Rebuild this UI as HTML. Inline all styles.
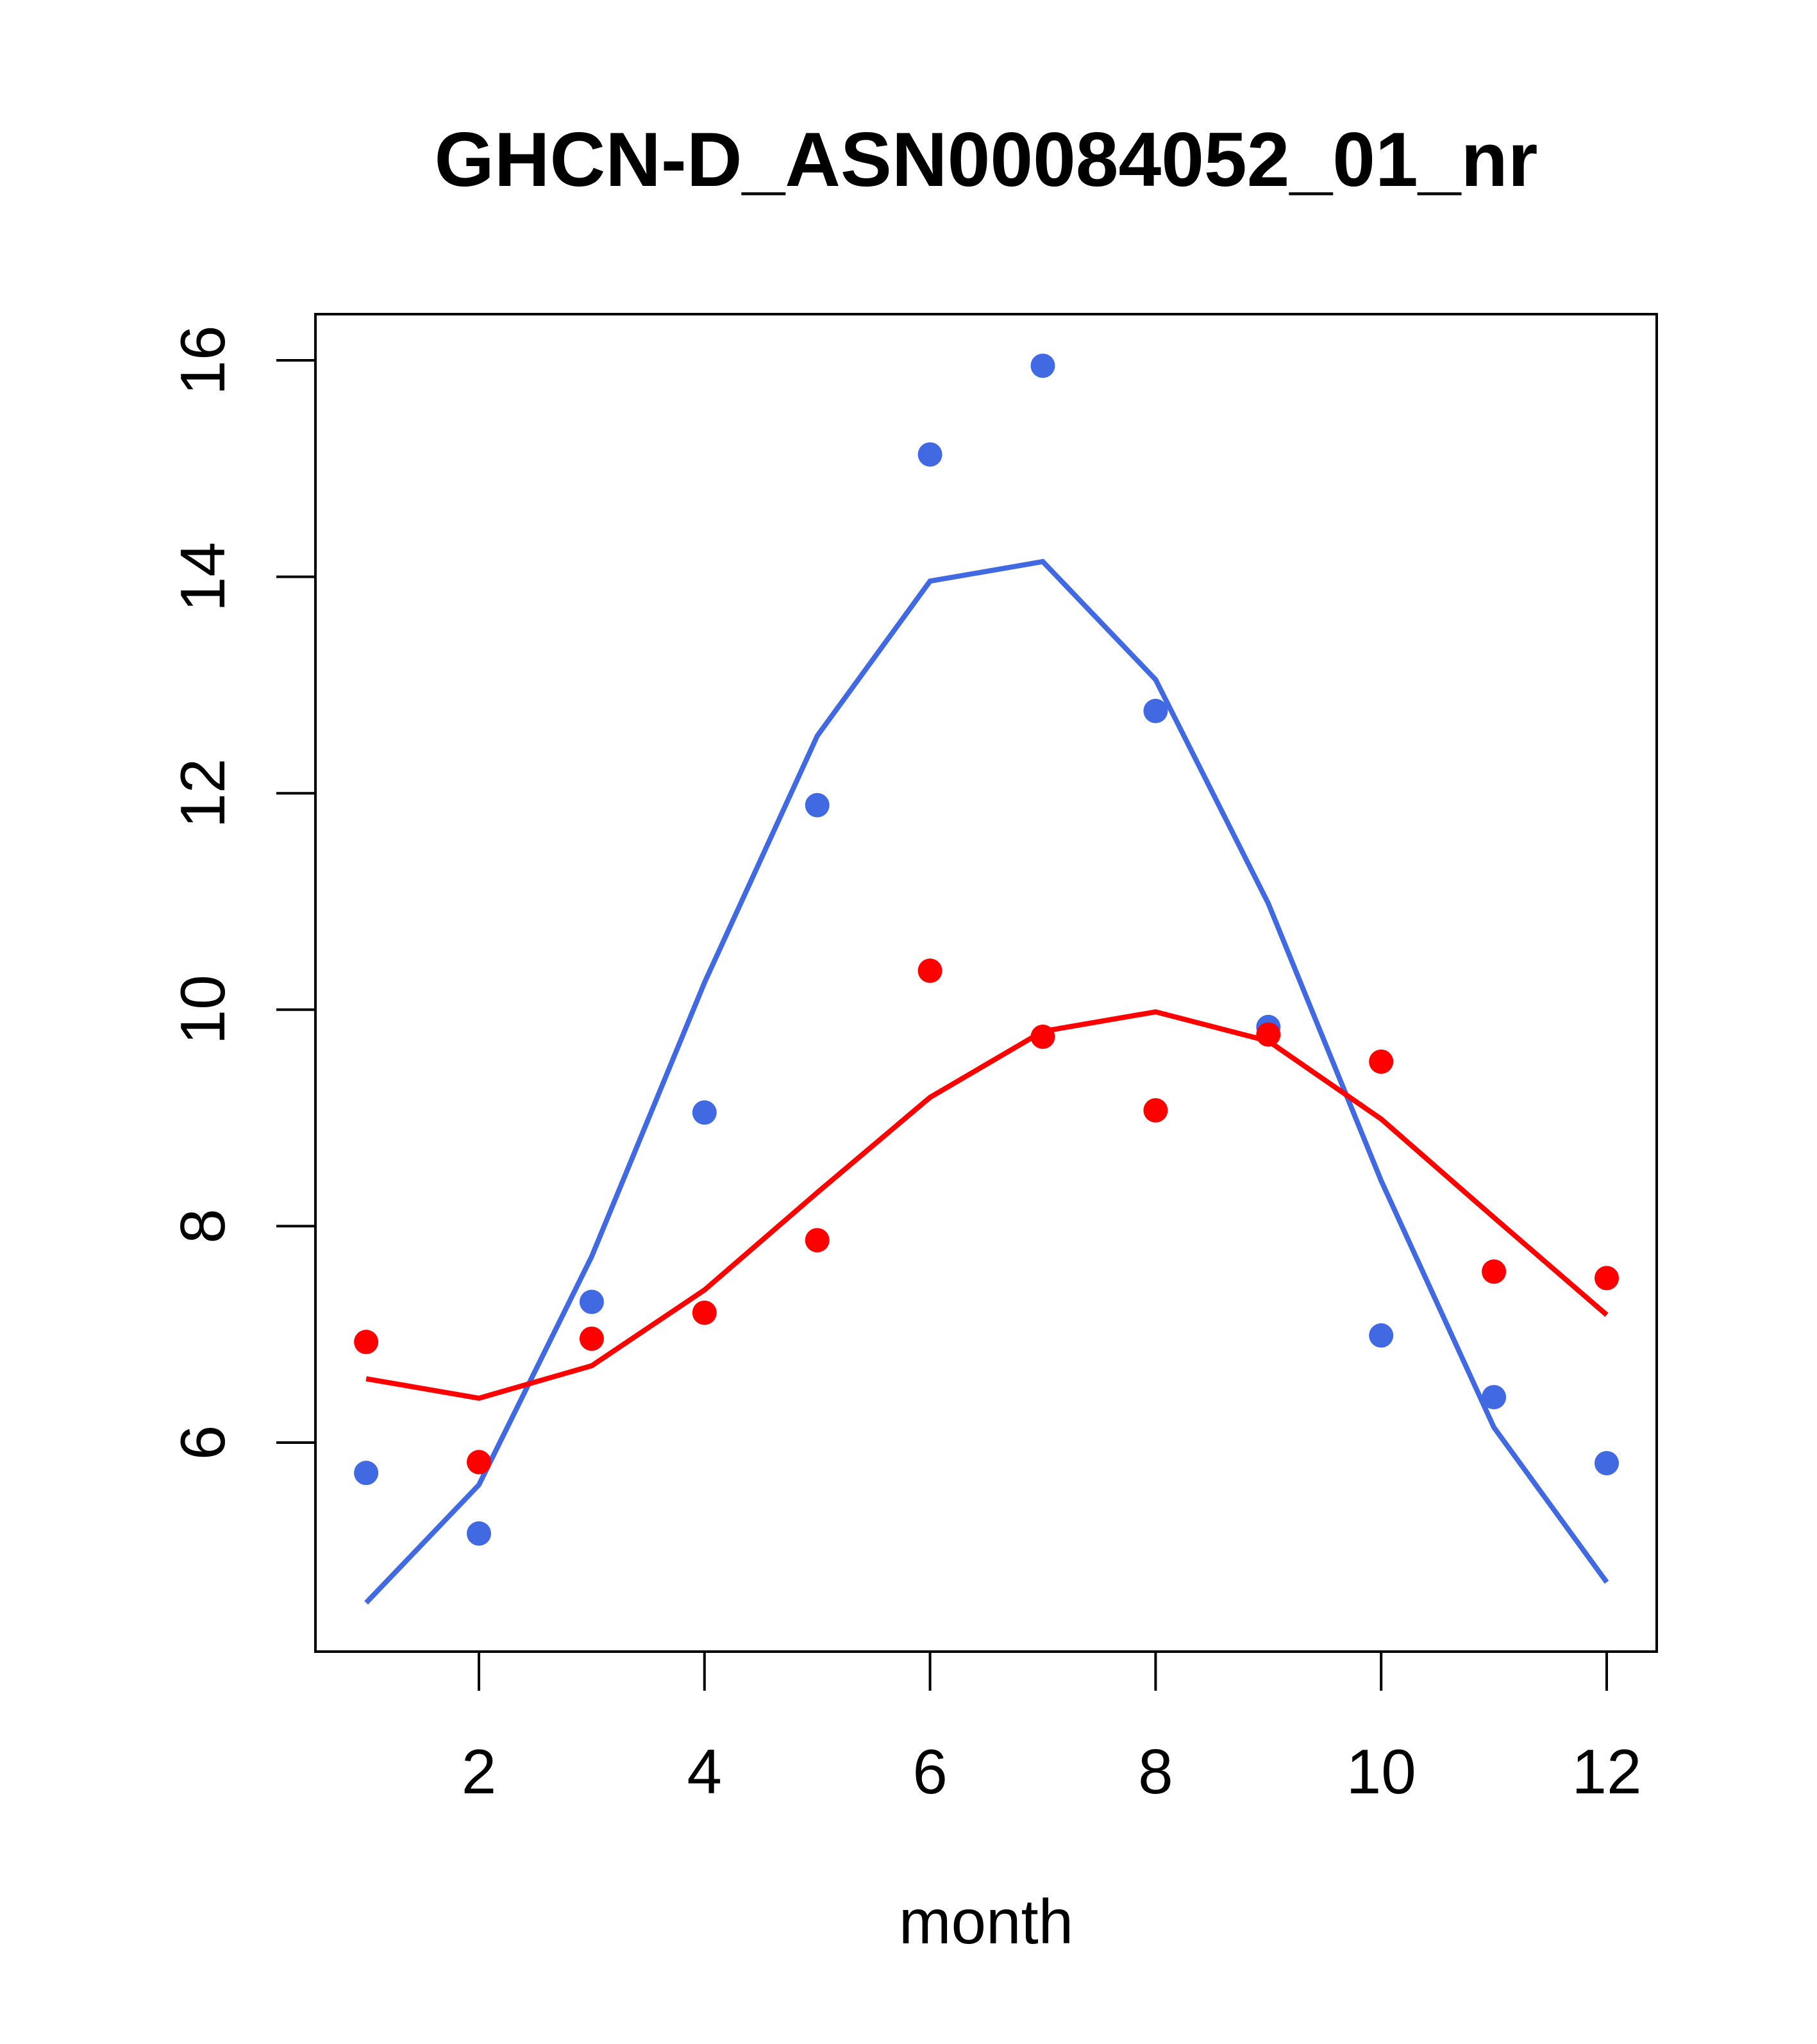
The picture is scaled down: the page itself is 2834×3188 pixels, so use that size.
<!DOCTYPE html>
<html><head><meta charset="utf-8"><style>
html,body{margin:0;padding:0;background:#fff;}
svg{display:block;font-family:"Liberation Sans",sans-serif;}
</style></head><body>
<svg id="chart" width="2834" height="3188" viewBox="0 0 2834 3188" xmlns="http://www.w3.org/2000/svg">
<rect width="2834" height="3188" fill="#fff"/>
<text x="1538" y="290" font-size="120" font-weight="bold" text-anchor="middle">GHCN-D_ASN00084052_01_nr</text>
<rect x="492" y="490" width="2092" height="2086" fill="none" stroke="#000" stroke-width="4"/>
<text x="1538" y="3031" font-size="98" text-anchor="middle">month</text>
<g id="xaxis"></g>
<g id="yaxis"></g>
<g id="series"></g>
</svg>
<script>
const months = [1,2,3,4,5,6,7,8,9,10,11,12];
const xTicks = [2,4,6,8,10,12];
const yTicks = [6,8,10,12,14,16];
const bluePoints = [5.72,5.16,7.30,9.05,11.89,15.13,15.95,12.76,9.84,6.99,6.42,5.81];
const blueLine = [4.52,5.61,7.72,10.25,12.53,13.96,14.14,13.05,10.98,8.42,6.14,4.71];
const redPoints = [6.93,5.82,6.96,7.20,7.87,10.36,9.75,9.07,9.77,9.52,7.58,7.52];
const redLine = [6.59,6.41,6.71,7.41,8.31,9.19,9.80,9.98,9.71,8.99,8.08,7.18];

const NS = "http://www.w3.org/2000/svg";
function sx(m){ return 747 + (m-2)*(2506-747)/10; }
function sy(v){ return 2250 - (v-6)*(2250-562)/10; }
function mk(tag, attrs, parent){
  const e = document.createElementNS(NS, tag);
  for (const k in attrs) e.setAttribute(k, attrs[k]);
  parent.appendChild(e);
  return e;
}
const xa = document.getElementById('xaxis');
xTicks.forEach(t=>{
  const l = mk('line',{x1:sx(t),x2:sx(t),y1:2576,y2:2637,stroke:'#000','stroke-width':4},xa);
  
  
  const tx = mk('text',{x:sx(t),y:2797,'font-size':98,'text-anchor':'middle'},xa);
  tx.textContent = t;
  
  
});
const ya = document.getElementById('yaxis');
yTicks.forEach(t=>{
  const l = mk('line',{x1:431,x2:492,y1:sy(t),y2:sy(t),stroke:'#000','stroke-width':4},ya);
  
  
  const tx = mk('text',{x:0,y:0,'font-size':98,'text-anchor':'middle',transform:`translate(350,${sy(t)}) rotate(-90)`},ya);
  tx.textContent = t;
  
  
});
const sg = document.getElementById('series');
function line(vals,color,name){
  const p = mk('polyline',{points:months.map((m,i)=>sx(m)+','+sy(vals[i])).join(' '),fill:'none',stroke:color,'stroke-width':8},sg);
  
  
}
function pts(vals,color,name){
  months.forEach((m,i)=>{
    const c = mk('circle',{cx:sx(m),cy:sy(vals[i]),r:19,fill:color},sg);
    
    
  });
}
line(blueLine,'#4169E1','blue-fit-line');
line(redLine,'#FF0000','red-fit-line');
pts(bluePoints,'#4169E1','blue-point');
pts(redPoints,'#FF0000','red-point');
</script>
</body></html>
